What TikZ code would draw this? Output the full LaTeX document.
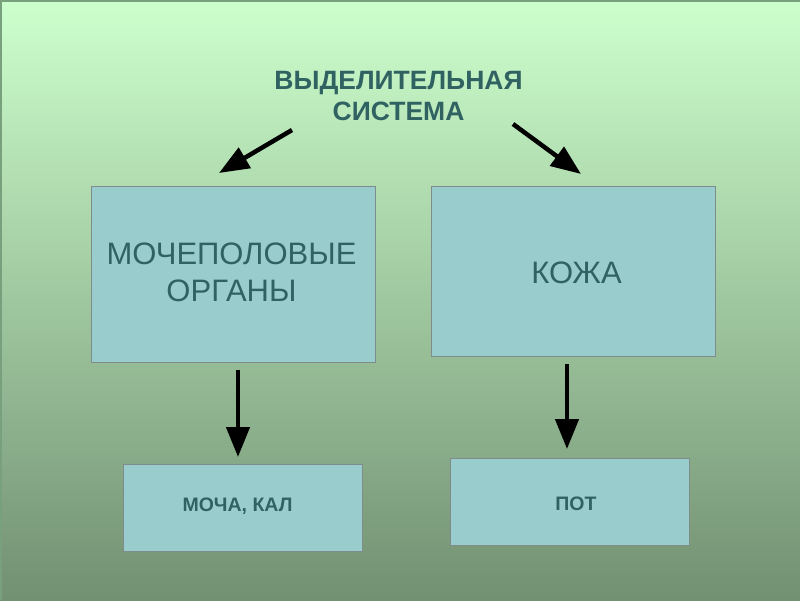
\documentclass[tikz,border=0pt]{standalone}
\usepackage{fontspec}
\setmainfont{Liberation Sans}
\usetikzlibrary{arrows.meta}
\definecolor{bgtop}{RGB}{205,255,205}
\definecolor{bgbot}{RGB}{114,144,114}
\definecolor{boxfill}{RGB}{153,204,204}
\definecolor{boxline}{RGB}{128,140,140}
\definecolor{txt}{RGB}{48,98,98}
\definecolor{edge}{RGB}{120,160,125}
\tikzset{
  panel/.style={draw=boxline, line width=1.2pt, fill=boxfill, anchor=north west, inner sep=0pt},
  conn/.style={line width=4.5pt, black, -{Triangle[length=30pt,width=23pt]}},
}
\begin{document}
\begin{tikzpicture}[x=1pt,y=-1pt]
\shade[top color=bgtop, bottom color=bgbot] (0,0) rectangle (800,600);
\useasboundingbox (0,0) rectangle (800,600);
\draw[edge, line width=2pt] (1,600) -- (1,1) -- (800,1);
\node[panel, minimum width=284pt, minimum height=176pt] (b1) at (91,186) {};
\node[panel, minimum width=284pt, minimum height=170pt] (b2) at (431,186) {};
\node[panel, minimum width=239pt, minimum height=87pt] (b3) at (123,464) {};
\node[panel, minimum width=239pt, minimum height=87pt] (b4) at (450,458) {};
\node[txt, font=\fontsize{26.5}{31}\selectfont\bfseries, align=center] (t) at (398.5,96) {ВЫДЕЛИТЕЛЬНАЯ\\СИСТЕМА};
\node[txt, font=\fontsize{31}{37}\selectfont, align=center] (l1) at (231.5,272) {МОЧЕПОЛОВЫЕ\\ОРГАНЫ};
\node[txt, font=\fontsize{31}{37}\selectfont] (l2) at (576.5,273) {КОЖА};
\node[txt, font=\fontsize{19.5}{23}\selectfont\bfseries] (l3) at (237.5,506) {МОЧА, КАЛ};
\node[txt, font=\fontsize{19.5}{23}\selectfont\bfseries] (l4) at (576,504) {ПОТ};
\coordinate (a1s) at (292,130); \coordinate (a1e) at (219,173);
\coordinate (a2s) at (513,124); \coordinate (a2e) at (581,174);
\coordinate (a3s) at (238,370); \coordinate (a3e) at (238,457);
\coordinate (a4s) at (567,364); \coordinate (a4e) at (567,449);
\draw[conn] (a1s) -- (a1e);
\draw[conn] (a2s) -- (a2e);
\draw[conn] (a3s) -- (a3e);
\draw[conn] (a4s) -- (a4e);
\end{tikzpicture}
\end{document}
